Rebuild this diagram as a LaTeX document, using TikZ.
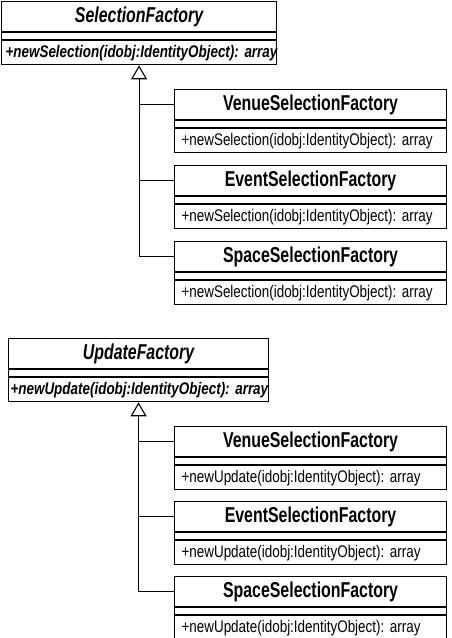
\documentclass[tikz,border=0pt]{standalone}
\usepackage{fontspec}
\setmainfont{Liberation Sans}[FakeStretch=0.8, WordSpace=0.6]
\newfontfamily\titlefont{Liberation Sans}[FakeStretch=0.74]
\usetikzlibrary{arrows.meta}

\tikzset{
    ctitle/.style={draw, line width=1.1pt, inner sep=0pt, anchor=north west,
        minimum width=#1, minimum height=30pt,
        font=\titlefont\fontsize{21.5}{24}\selectfont\bfseries},
    cblank/.style={draw, line width=1.1pt, inner sep=0pt, anchor=north,
        minimum width=#1, minimum height=7pt},
    cmethod/.style n args={2}{draw, line width=1.1pt, inner ysep=0pt, anchor=north,
        inner xsep=#2, text width=#1, align=left, minimum height=24pt,
        font=\fontsize{16.8}{20}\selectfont},
    gen/.style={line width=1.1pt},
    inherit/.style={gen, -{Triangle[open, length=14pt, width=16pt]}}
}
\frenchspacing

\begin{document}
\begin{tikzpicture}[x=1pt, y=-1pt]
            \useasboundingbox (0,0) rectangle (452,638);

            % abstract selection factory
            \node[ctitle=275pt] (SF) at (1,1) {\itshape SelectionFactory};
            \node[cblank=275pt] (SFa) at (SF.south) {};
            \node[cmethod={267pt}{4pt}] (SFm) at (SFa.south)
                {\mbox{\bfseries\itshape +newSelection(idobj:IdentityObject): array}};

            \foreach \n/\cls/\y in {
                VS/Venue/89,ES/Event/165,SS/Space/241
            }{
                \node[ctitle=272pt] (\n) at (174,\y) {\cls SelectionFactory};
                \node[cblank=272pt] (\n a) at (\n.south) {};
                \node[cmethod={258pt}{7pt}] (\n m) at (\n a.south)
                    {\mbox{+newSelection(idobj:IdentityObject): array}};
                \draw[gen] (\n.west) -- (\n.west -| SFm.south);
            }
            \draw[inherit] (SS.west) -| (SFm.south);

            % abstract update factory
            \node[ctitle=260pt] (UF) at (8,338) {\itshape UpdateFactory};
            \node[cblank=260pt] (UFa) at (UF.south) {};
            \node[cmethod={256pt}{2pt}] (UFm) at (UFa.south)
                {\mbox{\bfseries\itshape +newUpdate(idobj:IdentityObject): array}};

            \foreach \n/\cls/\y in {
                VU/Venue/426,EU/Event/501,SU/Space/576
            }{
                \node[ctitle=272pt] (\n) at (174,\y) {\cls SelectionFactory};
                \node[cblank=272pt] (\n a) at (\n.south) {};
                \node[cmethod={258pt}{7pt}] (\n m) at (\n a.south)
                    {\mbox{+newUpdate(idobj:IdentityObject): array}};
                \draw[gen] (\n.west) -- (\n.west -| UFm.south);
            }
            \draw[inherit] (SU.west) -| (UFm.south);
        \end{tikzpicture}
\end{document}
